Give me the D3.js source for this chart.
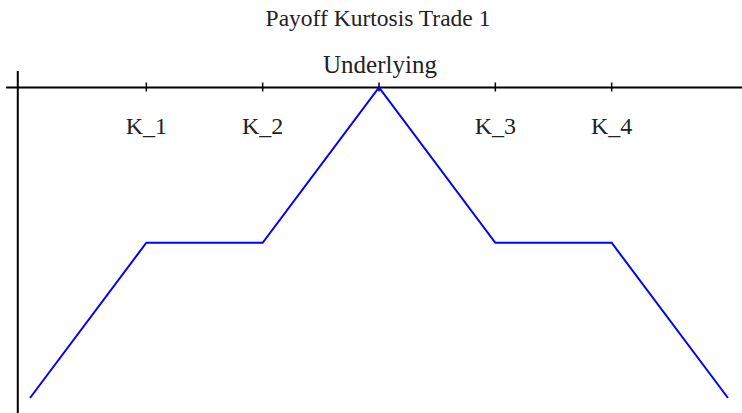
<!DOCTYPE html>
<html lang="en">
<head>
    <meta charset="UTF-8">
    <title>Payoff Kurtosis Trade 1</title>
    <script src="https://d3js.org/d3.v7.min.js"></script>
    <style>
        body { margin: 0; padding: 0; background: #fff; }
        svg text { font-family: "Liberation Serif", "Times New Roman", serif; fill: #222; }
    </style>
</head>
<body>
    <div id="chart"></div>
    <script>
        const width = 742;
        const height = 413;

        // payoff profile
        const underlying = [0, 1, 2, 3, 4, 5, 6];
        const payoff = [-2, -1, -1, 0, -1, -1, -2];
        // strike ticks and labels
        const strikes = [1, 2, 3, 4, 5];
        const strikeLabels = ["K_1", "K_2", "", "K_3", "K_4"];

        const svg = d3.select("#chart")
            .append("svg")
            .attr("width", width)
            .attr("height", height);

        const x = d3.scaleLinear().domain([0, 6]).range([30, 728]);
        const y = d3.scaleLinear().domain([-2, 0]).range([398, 87.5]);

        // title
        svg.append("text")
            .attr("x", 378)
            .attr("y", 26)
            .attr("text-anchor", "middle")
            .style("font-size", "23.5px")
            .text("Payoff Kurtosis Trade 1");

        // horizontal axis
        svg.append("line")
            .attr("x1", x(-0.205)).attr("x2", width)
            .attr("y1", y(0)).attr("y2", y(0))
            .attr("stroke", "#000").attr("stroke-width", 2);

        // vertical axis
        svg.append("line")
            .attr("x1", x(-0.105)).attr("x2", x(-0.105))
            .attr("y1", 71).attr("y2", height)
            .attr("stroke", "#000").attr("stroke-width", 2);

        // ticks
        svg.selectAll(".tick")
            .data(strikes)
            .enter().append("line")
            .attr("class", "tick")
            .attr("x1", d => x(d)).attr("x2", d => x(d))
            .attr("y1", y(0) - 5).attr("y2", y(0) + 4)
            .attr("stroke", "#000").attr("stroke-width", 1.5);

        svg.selectAll(".klabel")
            .data(strikes)
            .enter().append("text")
            .attr("class", "klabel")
            .attr("x", d => x(d))
            .attr("y", 134)
            .attr("text-anchor", "middle")
            .style("font-size", "24px")
            .text((d, i) => strikeLabels[i]);

        svg.append("text")
            .attr("x", x(3) + 1)
            .attr("y", 73)
            .attr("text-anchor", "middle")
            .style("font-size", "25px")
            .text("Underlying");

        const line = d3.line()
            .x((d, i) => x(underlying[i]))
            .y(d => y(d));

        svg.append("path")
            .datum(payoff)
            .attr("d", line)
            .attr("fill", "none")
            .attr("stroke", "#0000ff")
            .attr("stroke-width", 2);
    </script>
</body>
</html>
